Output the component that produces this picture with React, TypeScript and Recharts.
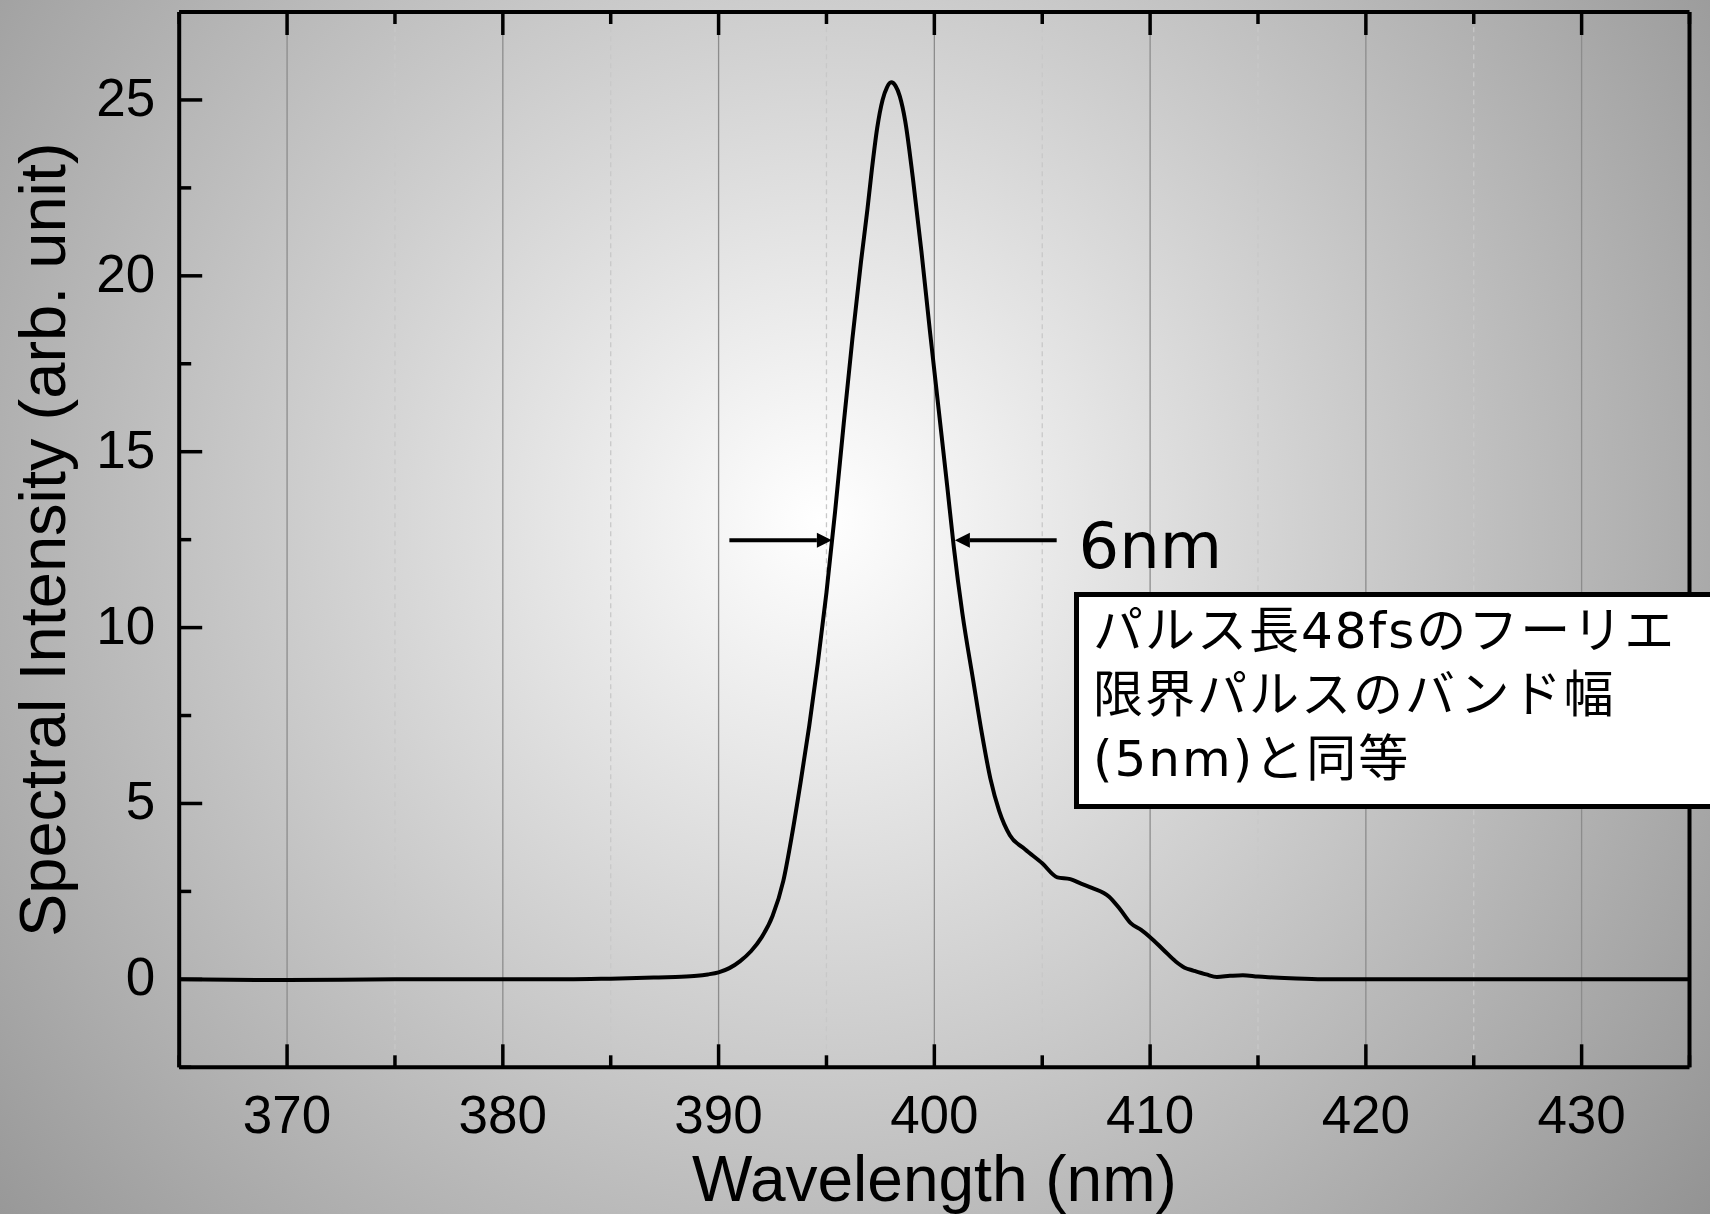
import React from "react"
import { LineChart, Line, XAxis, YAxis, ReferenceLine, ReferenceDot } from "recharts"

// spectrum (nm, arb. unit)
const wavelength = [
  365, 370, 375, 380, 383, 385, 387, 388, 389, 389.5, 390, 390.5, 391, 391.5, 392, 392.5, 393, 393.4, 393.8,
  394.2, 394.6, 395.0, 395.4, 395.8, 396.2, 396.6, 396.9, 397.1, 397.35, 397.6, 397.8, 398.0, 398.2, 398.4,
  398.65, 399.0, 399.4, 399.8, 400.2, 400.6, 400.9, 401.3, 401.8, 402.2, 402.6, 403.0, 403.5, 404.2, 405.0,
  405.7, 406.3, 406.8, 407.3, 408.1, 408.6, 409.1, 409.6, 410.0, 410.6, 411.2, 411.6, 412.0, 412.6, 413.1,
  413.7, 414.3, 415.0, 415.5, 416.5, 418, 420, 425, 430, 435,
]
const intensity = [
  0.0, -0.02, 0.0, 0.0, 0.0, 0.02, 0.05, 0.07, 0.1, 0.14, 0.2, 0.32, 0.52, 0.8, 1.2, 1.8, 2.8, 4.1, 5.6,
  7.2, 9.0, 11.0, 13.3, 15.8, 18.2, 20.4, 21.9, 23.0, 24.2, 25.0, 25.35, 25.5, 25.4, 25.1,
  24.4, 22.8, 20.7, 18.4, 16.2, 14.0, 12.3, 10.4, 8.5, 7.0, 5.7, 4.8, 4.1, 3.7, 3.3,
  2.9, 2.85, 2.72, 2.6, 2.35, 2.0, 1.6, 1.4, 1.2, 0.85, 0.5, 0.33, 0.25, 0.14, 0.07,
  0.1, 0.12, 0.08, 0.06, 0.03, 0.0, 0.0, 0.0, 0.0, 0.0,
]

const xMajor = [370, 380, 390, 400, 410, 420, 430]
const xMinor = [365, 375, 385, 395, 405, 415, 425, 435]
const yMajor = [0, 5, 10, 15, 20, 25]
const yMinor = [-2.5, 2.5, 7.5, 12.5, 17.5, 22.5, 27.5]

// FWHM arrows and note
const fwhmLevel = 12.48
const fwhmLeft = [390.5, 395.25]
const fwhmRight = [405.67, 400.95]
const fwhmText = { x: 406.68, y: 11.68, label: "6nm" }
const noteLines = ["パルス長48fsのフーリエ", "限界パルスのバンド幅", "(5nm)と同等"]

const spectrum = wavelength.map((w, i) => ({ w, v: intensity[i] }))
const xTicks = [...xMajor, ...xMinor].sort((a, b) => a - b)
const yTicks = [...yMajor, ...yMinor].sort((a, b) => a - b)

const FONT = '"Liberation Sans", Arial, sans-serif'
const JP = '"DejaVu Sans", "Noto Sans CJK JP", sans-serif'
const MAJOR = 23
const MINOR = 12
const AXIS = { stroke: "#000", strokeWidth: 4 }

function BottomTick({ x, y, payload }: any) {
  const major = xMajor.includes(payload.value)
  return (
    <g>
      <line x1={x} x2={x} y1={y} y2={y - (major ? MAJOR : MINOR)} stroke="#000" strokeWidth={3.5} />
      {major && (
        <text x={x} y={y + 66} textAnchor="middle" fontSize={53} fontFamily={FONT} fill="#000">
          {payload.value}
        </text>
      )}
    </g>
  )
}

function TopTick({ x, y, payload }: any) {
  const major = xMajor.includes(payload.value)
  return <line x1={x} x2={x} y1={y} y2={y + (major ? MAJOR : MINOR)} stroke="#000" strokeWidth={3.5} />
}

function LeftTick({ x, y, payload }: any) {
  const major = yMajor.includes(payload.value)
  return (
    <g>
      <line x1={x} x2={x + (major ? MAJOR : MINOR)} y1={y} y2={y} stroke="#000" strokeWidth={3.5} />
      {major && (
        <text x={x - 24} y={y + 16} textAnchor="end" fontSize={53} fontFamily={FONT} fill="#000">
          {payload.value}
        </text>
      )}
    </g>
  )
}

function RightTick({ x, y, payload }: any) {
  const major = yMajor.includes(payload.value)
  return <line x1={x} x2={x - (major ? MAJOR : MINOR)} y1={y} y2={y} stroke="#000" strokeWidth={3.5} />
}

function Arrow({ x1, y1, x2, y2 }: any) {
  const dir = x2 > x1 ? 1 : -1
  const head = 15
  return (
    <g>
      <line x1={x1} y1={y1} x2={x2 - dir * head} y2={y2} stroke="#000" strokeWidth={4} />
      <path d={`M${x2},${y2} L${x2 - dir * head},${y2 - 7.5} L${x2 - dir * head},${y2 + 7.5} Z`} fill="#000" />
    </g>
  )
}

export default function App() {
  return (
    <div
      style={{
        position: "absolute",
        left: 0,
        top: 0,
        width: 1710,
        height: 1214,
        overflow: "hidden",
        background: "radial-gradient(circle 1160px at 820px 520px, #ffffff 0px, #909090 1160px)",
      }}
    >
      <LineChart width={1710} height={1214} data={spectrum} margin={{ top: 11, right: 0, bottom: 0, left: 0 }}>
        {xMajor.map((v) => (
          <ReferenceLine key={`gx${v}`} x={v} stroke="#8c8c8c" strokeWidth={1.3} />
        ))}
        {xMinor.slice(1, -1).map((v) => (
          <ReferenceLine key={`mx${v}`} x={v} stroke="#c8c8c8" strokeWidth={1.3} strokeDasharray="5 4" />
        ))}
        <XAxis
          dataKey="w"
          type="number"
          domain={[365, 435]}
          ticks={xTicks}
          interval={0}
          height={146.7}
          tickSize={0}
          tickMargin={0}
          tickLine={false}
          axisLine={AXIS}
          tick={BottomTick}
          label={{
            content: (p: any) => (
              <text
                x={p.viewBox.x + p.viewBox.width / 2}
                y={p.viewBox.y + 134}
                textAnchor="middle"
                fontSize={64}
                fontFamily={FONT}
                fill="#000"
              >
                Wavelength (nm)
              </text>
            ),
          }}
        />
        <XAxis
          xAxisId="top"
          orientation="top"
          type="number"
          dataKey="w"
          domain={[365, 435]}
          ticks={xTicks}
          interval={0}
          height={1}
          tickSize={0}
          tickMargin={0}
          tickLine={false}
          axisLine={AXIS}
          tick={TopTick}
        />
        <YAxis
          type="number"
          domain={[-2.5, 27.5]}
          ticks={yTicks}
          interval={0}
          width={179.2}
          tickSize={0}
          tickMargin={0}
          tickLine={false}
          axisLine={AXIS}
          tick={LeftTick}
          label={{
            content: (p: any) => {
              const cx = p.viewBox.x + 65
              const cy = p.viewBox.y + p.viewBox.height / 2
              return (
                <text
                  x={cx}
                  y={cy}
                  transform={`rotate(-90, ${cx}, ${cy})`}
                  textAnchor="middle"
                  fontSize={65}
                  fontFamily={FONT}
                  fill="#000"
                >
                  Spectral Intensity (arb. unit)
                </text>
              )
            },
          }}
        />
        <YAxis
          yAxisId="right"
          orientation="right"
          type="number"
          domain={[-2.5, 27.5]}
          ticks={yTicks}
          interval={0}
          width={20.5}
          tickSize={0}
          tickMargin={0}
          tickLine={false}
          axisLine={AXIS}
          tick={RightTick}
        />
        <Line
          dataKey="v"
          type="monotone"
          stroke="#000"
          strokeWidth={4}
          dot={false}
          activeDot={false}
          isAnimationActive={false}
        />
        <ReferenceLine
          segment={[
            { x: fwhmLeft[0], y: fwhmLevel },
            { x: fwhmLeft[1], y: fwhmLevel },
          ]}
          shape={Arrow}
        />
        <ReferenceLine
          segment={[
            { x: fwhmRight[0], y: fwhmLevel },
            { x: fwhmRight[1], y: fwhmLevel },
          ]}
          shape={Arrow}
        />
        <ReferenceDot
          x={fwhmText.x}
          y={fwhmText.y}
          r={0}
          shape={(p: any) => (
            <text x={p.cx} y={p.cy} fontSize={64} fontFamily={JP} fill="#000">
              {fwhmText.label}
            </text>
          )}
        />
      </LineChart>
      <div
        style={{
          position: "absolute",
          left: 1074,
          top: 592,
          width: 720,
          height: 217,
          boxSizing: "border-box",
          border: "5.5px solid #000",
          background: "#fff",
          paddingLeft: 14,
          paddingTop: 2,
          fontFamily: JP,
          fontSize: 50,
          letterSpacing: 2,
          lineHeight: "64px",
          color: "#000",
          whiteSpace: "nowrap",
        }}
      >
        {noteLines.map((l) => (
          <div key={l}>{l}</div>
        ))}
      </div>
    </div>
  )
}
